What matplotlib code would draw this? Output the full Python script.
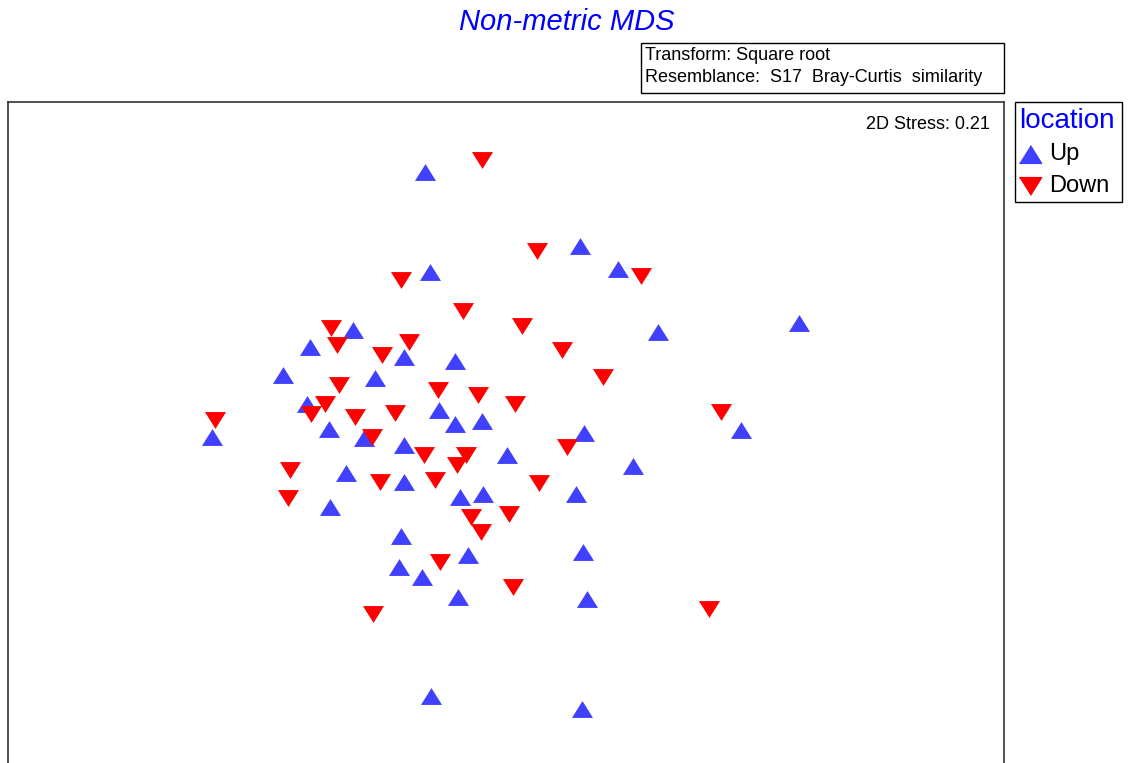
import numpy as np
import matplotlib
matplotlib.use('Agg')
from matplotlib import pyplot as plt
from matplotlib.patches import Rectangle
from matplotlib.lines import Line2D

plt.rcParams['font.family'] = ['Liberation Sans', 'DejaVu Sans']

# point positions (x to the right, y downwards)
up_x = [425, 580, 430, 618, 799, 658, 353, 310, 404, 455, 283, 375, 307, 439,
        455, 482, 329, 364, 212, 404, 584, 507, 741, 633, 346, 404, 460, 483,
        576, 330, 401, 468, 583, 399, 422, 458, 587, 431, 582]
up_y = [172, 246, 272, 269, 323, 332, 330, 347, 357, 361, 375, 378, 404, 410,
        424, 421, 429, 438, 437, 445, 433, 455, 430, 466, 473, 482, 497, 494,
        494, 507, 536, 555, 552, 567, 577, 597, 599, 696, 709]

down_x = [482, 537, 401, 641, 463, 522, 331, 337, 409, 382, 562, 603, 339, 438,
          478, 325, 311, 355, 395, 515, 721, 215, 372, 567, 290, 424, 466, 457,
          380, 435, 539, 288, 509, 471, 481, 440, 513, 373, 709]
down_y = [160, 251, 280, 276, 311, 326, 328, 345, 342, 355, 350, 377, 385, 390,
          395, 404, 414, 417, 413, 404, 412, 420, 437, 447, 470, 455, 455, 465,
          482, 480, 483, 498, 514, 517, 532, 562, 587, 614, 609]

groups = ['Up', 'Down']
stress = 0.21

W, H = 1128, 763
fig = plt.figure(figsize=(W / 100, H / 100), dpi=100)

ax_left, ax_right, ax_top, ax_bottom = 8, 1004, 102, 790
ax = fig.add_axes([ax_left / W, 1 - ax_bottom / H,
                   (ax_right - ax_left) / W, (ax_bottom - ax_top) / H])
ax.set_xlim(ax_left, ax_right)
ax.set_ylim(ax_bottom, ax_top)
ax.set_xticks([])
ax.set_yticks([])
for s in ax.spines.values():
    s.set_color('#333333')
    s.set_linewidth(1.2)

tri_up = [(-1, -0.8), (1, -0.8), (0, 0.8)]
tri_down = [(-1, 0.8), (1, 0.8), (0, -0.8)]
blue = '#4040FF'
red = '#FF0000'

ax.scatter(up_x, up_y, marker=tri_up, s=230, color=blue, linewidths=0, zorder=3)
ax.scatter(down_x, down_y, marker=tri_down, s=230, color=red, linewidths=0, zorder=3)

ax.text(0.986, 0.98, f'2D Stress: {stress}', transform=ax.transAxes,
        ha='right', va='top', fontsize=13)

fig.text(567 / W, 1 - 22 / H, 'Non-metric MDS', color='#0000FF',
         fontsize=21, style='italic', ha='center', va='center')

# info box
fig.add_artist(Rectangle((641 / W, 1 - 93 / H), (1004 - 641) / W, 50 / H,
                         transform=fig.transFigure, fill=False,
                         edgecolor='black', linewidth=1))
fig.text(645 / W, 1 - 55 / H, 'Transform: Square root', fontsize=13,
         ha='left', va='center')
fig.text(645 / W, 1 - 78 / H, 'Resemblance:  S17  Bray-Curtis  similarity',
         fontsize=13, ha='left', va='center')

# legend drawn by hand
fig.add_artist(Rectangle((1015 / W, 1 - 202 / H), (1122 - 1015) / W, 100 / H,
                         transform=fig.transFigure, fill=False,
                         edgecolor='black', linewidth=1))
fig.text(1019 / W, 1 - 121 / H, 'location', color='#0000FF', fontsize=20,
         ha='left', va='center')
for name, mk, col, yy in zip(groups, [tri_up, tri_down], [blue, red], [154, 186]):
    fig.add_artist(Line2D([1030 / W], [1 - yy / H], transform=fig.transFigure,
                          marker=mk, markersize=16, color=col, linestyle='none'))
    fig.text(1049 / W, 1 - yy / H, name, fontsize=17, ha='left', va='center')

fig.savefig('out.png', dpi=100)
